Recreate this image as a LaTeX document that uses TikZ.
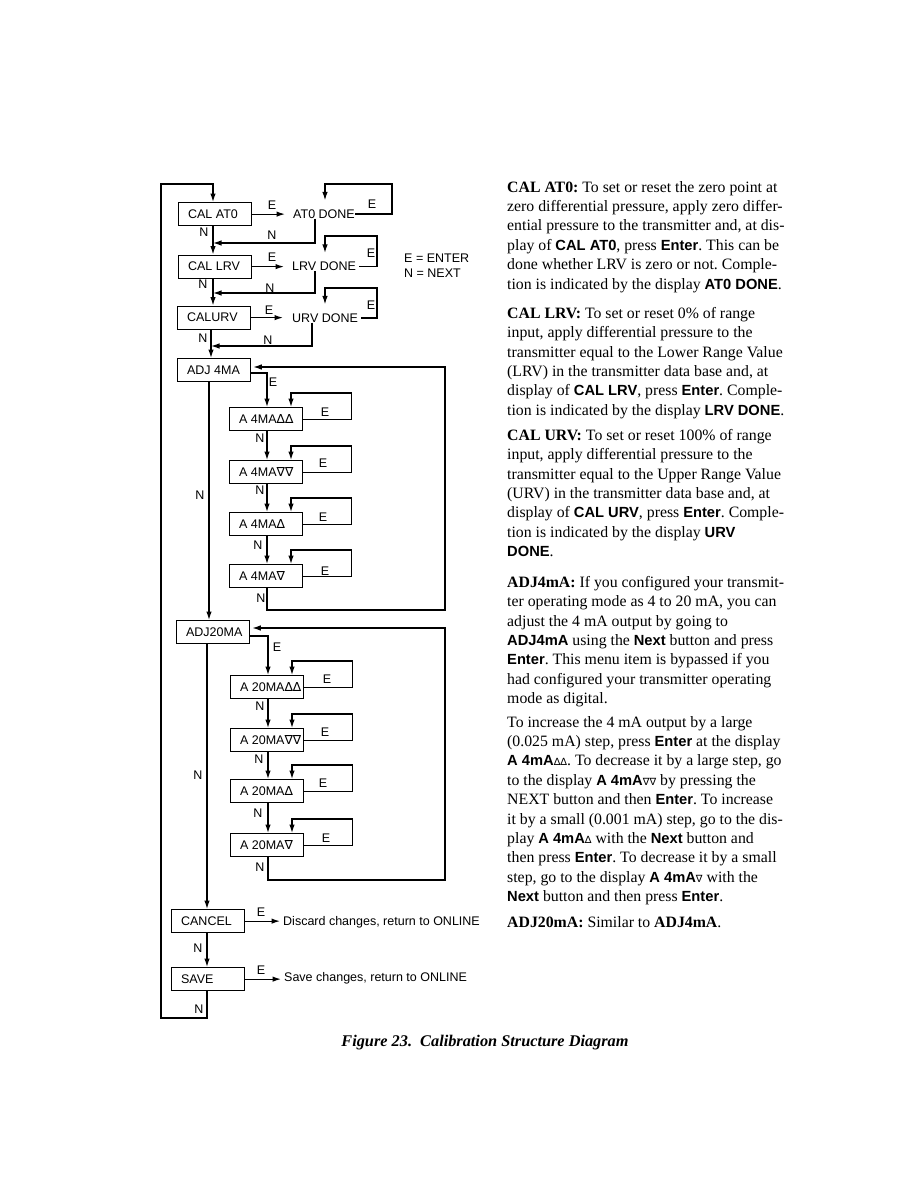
\documentclass[tikz,border=0pt]{standalone}
\usepackage{fontspec}
\setmainfont{Liberation Serif}
\setsansfont{Liberation Sans}
\newfontfamily\dfont{Liberation Sans}
\newfontfamily\symf{DejaVu Sans}
\usetikzlibrary{arrows.meta}
\frenchspacing
\newcommand{\tUp}{{\symf\char"2206}}
\newcommand{\tDn}{{\symf\char"2207}}
\newcommand{\sUp}{{\symf\fontsize{10}{19.4}\selectfont\char"2206}}
\newcommand{\sDn}{{\symf\fontsize{10}{19.4}\selectfont\char"2207}}
\newcommand{\bsf}[1]{{\sffamily\bfseries\fontsize{14.7}{19.4}\selectfont #1}}
\newcommand{\bx}[1]{\makebox[54pt][l]{#1}}
\newcommand{\selfloop}[1]{\draw[arr] (#1.east) -- ++(48,0) |- ([xshift=62pt,yshift=14pt]#1.north west) -- ([xshift=62pt]#1.north west);}
\begin{document}
\begin{tikzpicture}[x=1pt,y=-1pt,
  box/.style={draw, line width=1.25pt, inner xsep=9.5pt, inner ysep=0pt, minimum height=23pt, anchor=north west, font=\dfont\fontsize{12.5}{14}\selectfont},
  txt/.style={inner sep=0pt, anchor=west, font=\dfont\fontsize{12.5}{14}\selectfont},
  lbl/.style={inner sep=0pt, font=\dfont\fontsize{12.5}{14}\selectfont},
  arr/.style={line width=1.25pt, -{Latex[length=8.5pt,width=5.5pt]}},
  body/.style={anchor=north west, inner sep=0pt, align=left, font=\fontsize{15.8}{19.4}\selectfont\frenchspacing}]
\fill[white] (0,0) rectangle (918,1188);
\useasboundingbox (0,0) rectangle (918,1188);

% spine coordinates
\coordinate (sA) at (213,0);
\coordinate (sB) at (211,0);
\coordinate (sC) at (209,0);
\coordinate (sD) at (207,0);

% main boxes
\node[box] (cal0) at (178,202) {\bx{CAL AT0}};
\node[box] (lrv) at (178,254.5) {\bx{CAL LRV}};
\node[box] (urv) at (177,305.5) {\bx{CALURV}};
\node[box] (adj4) at (177,358) {\bx{ADJ 4MA}};
\node[box] (a1) at (229,407) {\bx{A 4MA\tUp\tUp}};
\node[box] (a2) at (229,460) {\bx{A 4MA\tDn\tDn}};
\node[box] (a3) at (229,512) {\bx{A 4MA\tUp}};
\node[box] (a4) at (229,564) {\bx{A 4MA\tDn}};
\node[box] (adj20) at (176,620) {\bx{ADJ20MA}};
\node[box] (b1) at (230,675) {\bx{A 20MA\tUp\tUp}};
\node[box] (b2) at (230,728) {\bx{A 20MA\tDn\tDn}};
\node[box] (b3) at (230,779) {\bx{A 20MA\tUp}};
\node[box] (b4) at (230,833) {\bx{A 20MA\tDn}};
\node[box] (cancel) at (171,909) {\bx{CANCEL}};
\node[box] (save) at (171,967) {\bx{SAVE}};

% done texts
\node[txt] (at0) at (293,214) {AT0 DONE};
\node[txt] (lrvd) at (292,266.5) {LRV DONE};
\node[txt] (urvd) at (292,318) {URV DONE};
\node[txt] (disc) at (283,922) {Discard changes, return to ONLINE};
\node[txt] (savt) at (284,978) {Save changes, return to ONLINE};
\node[lbl, anchor=west, align=left, font=\dfont\fontsize{12.5}{15}\selectfont] (legend) at (404,265.5) {E = ENTER\\N = NEXT};

% spine connectors
\draw[arr] (cal0.south -| sA) -- (lrv.north -| sA);
\draw[arr] (lrv.south -| sA) -- (urv.north -| sA);
\draw[arr] (urv.south -| sB) -- (adj4.north -| sB);
\draw[arr] (adj4.south -| sC) -- (adj20.north -| sC);
\draw[arr] (adj20.south -| sD) -- (cancel.north -| sD);
\draw[arr] (cancel.south -| sD) -- (save.north -| sD);
\coordinate (lb) at (161,1018);
\coordinate (lt) at (161,184);
\draw[arr] (save.south -| sD) -- (sD |- lb) -- (lb) -- (lt) -- (lt -| sA) -- (cal0.north -| sA);

% E arrows top
\draw[arr, shorten >=8pt] (cal0.east) -- (cal0.east -| at0.west);
\draw[arr, shorten >=8pt] (lrv.east) -- (lrv.east -| lrvd.west);
\draw[arr, shorten >=9pt] (urv.east) -- (urv.east -| urvd.west);

% self loops on DONE texts
\coordinate (k1) at (392,184); \coordinate (k1x) at (325,184);
\draw[arr] (at0.east) -| (k1) -- (k1x) -- ([yshift=9pt]at0.north -| k1x);
\coordinate (k2) at (377,236); \coordinate (k2x) at (325,236);
\draw[arr] ([xshift=3pt]lrvd.east) -| (k2) -- (k2x) -- ([yshift=9pt]lrvd.north -| k2x);
\coordinate (k3) at (377,288); \coordinate (k3x) at (325,288);
\draw[arr] ([xshift=3pt]urvd.east) -| (k3) -- (k3x) -- ([yshift=9pt]urvd.north -| k3x);

% N back lines
\coordinate (m1) at (315,243);
\draw[arr] (at0.south -| m1) -- (m1) -- (m1 -| sA);
\coordinate (m2) at (315,293);
\draw[arr] (lrvd.south -| m2) -- (m2) -- (m2 -| sA);
\coordinate (m3) at (312,346);
\draw[arr] (urvd.south -| m3) -- (m3) -- (m3 -| sB);

% ADJ 4MA section
\coordinate (e4) at (267,373);
\draw[arr] (adj4.east |- e4) -- (e4) -- (a1.north -| e4);
\draw[arr] (a1.south -| e4) -- (a2.north -| e4);
\draw[arr] (a2.south -| e4) -- (a3.north -| e4);
\draw[arr] (a3.south -| e4) -- (a4.north -| e4);
\coordinate (r4a) at (445,610);
\coordinate (r4b) at (445,367);
\draw[arr, shorten >=2pt] (a4.south -| e4) -- (e4 |- r4a) -- (r4a) -- (r4b) -- (adj4.east |- r4b);
\selfloop{a1}
\selfloop{a2}
\selfloop{a3}
\selfloop{a4}

% ADJ20MA section
\coordinate (e20) at (268,636);
\draw[arr] (adj20.east |- e20) -- (e20) -- (b1.north -| e20);
\draw[arr] (b1.south -| e20) -- (b2.north -| e20);
\draw[arr] (b2.south -| e20) -- (b3.north -| e20);
\draw[arr] (b3.south -| e20) -- (b4.north -| e20);
\coordinate (r20a) at (445,880);
\coordinate (r20b) at (445,628);
\draw[arr, shorten >=2pt] (b4.south -| e20) -- (e20 |- r20a) -- (r20a) -- (r20b) -- (adj20.east |- r20b);
\selfloop{b1}
\selfloop{b2}
\selfloop{b3}
\selfloop{b4}

% bottom E arrows
\draw[arr, shorten >=3pt] (cancel.east) -- (cancel.east -| disc.west);
\draw[arr, shorten >=3pt] (save.east) -- (save.east -| savt.west);

% labels
\node[lbl] (lE1) at (272,205) {E};
\node[lbl] (lE1b) at (372,204) {E};
\node[lbl] (lN1) at (204,232) {N};
\node[lbl] (lN1b) at (272,235) {N};
\node[lbl] (lE2) at (272,257) {E};
\node[lbl] (lE2b) at (371,253) {E};
\node[lbl] (lN2) at (203,284) {N};
\node[lbl] (lN2b) at (270,288) {N};
\node[lbl] (lE3) at (269,310) {E};
\node[lbl] (lE3b) at (371,305) {E};
\node[lbl] (lN3) at (203,338) {N};
\node[lbl] (lN3b) at (268,340) {N};
\node[lbl] (lE4) at (273,382) {E};
\node[lbl] (la1) at (325,412) {E};
\node[lbl] (lna1) at (260,438) {N};
\node[lbl] (la2) at (323,463) {E};
\node[lbl] (lna2) at (260,490) {N};
\node[lbl] (la3) at (323,517) {E};
\node[lbl] (lna3) at (258,545) {N};
\node[lbl] (la4) at (325,571) {E};
\node[lbl] (lna4) at (261,598) {N};
\node[lbl] (lN4) at (200,495) {N};
\node[lbl] (lE5) at (277,647) {E};
\node[lbl] (lb1) at (327,679) {E};
\node[lbl] (lnb1) at (260,706) {N};
\node[lbl] (lb2) at (325,732) {E};
\node[lbl] (lnb2) at (259,759) {N};
\node[lbl] (lb3) at (323,783) {E};
\node[lbl] (lnb3) at (258,813) {N};
\node[lbl] (lb4) at (326,838) {E};
\node[lbl] (lnb4) at (260,867) {N};
\node[lbl] (lN5) at (198,775) {N};
\node[lbl] (lEc) at (261,912) {E};
\node[lbl] (lNc) at (198,948) {N};
\node[lbl] (lEs) at (261,970) {E};
\node[lbl] (lNs) at (199,1009) {N};

% caption
\node[inner sep=0pt, font=\bfseries\itshape\fontsize{16.3}{18}\selectfont] (cap) at (485,1043) {Figure 23.\ \ Calibration Structure Diagram};

% body text
\node[body] (p1) at (507,181) {\textbf{CAL AT0:} To set or reset the zero point at\\
zero differential pressure, apply zero differ-\\
ential pressure to the transmitter and, at dis-\\
play of \bsf{CAL AT0}, press \bsf{Enter}. This can be\\
done whether LRV is zero or not. Comple-\\
tion is indicated by the display \bsf{AT0 DONE}.};
\node[body] (p2) at (507,307) {\textbf{CAL LRV:} To set or reset 0\% of range\\
input, apply differential pressure to the\\
transmitter equal to the Lower Range Value\\
(LRV) in the transmitter data base and, at\\
display of \bsf{CAL LRV}, press \bsf{Enter}. Comple-\\
tion is indicated by the display \bsf{LRV DONE}.};
\node[body] (p3) at (507,429) {\textbf{CAL URV:} To set or reset 100\% of range\\
input, apply differential pressure to the\\
transmitter equal to the Upper Range Value\\
(URV) in the transmitter data base and, at\\
display of \bsf{CAL URV}, press \bsf{Enter}. Comple-\\
tion is indicated by the display \bsf{URV}\\
\bsf{DONE}.};
\node[body] (p4) at (507,576) {\textbf{ADJ4mA:} If you configured your transmit-\\
ter operating mode as 4 to 20 mA, you can\\
adjust the 4 mA output by going to\\
\bsf{ADJ4mA} using the \bsf{Next} button and press\\
\bsf{Enter}. This menu item is bypassed if you\\
had configured your transmitter operating\\
mode as digital.};
\node[body] (p5) at (507,716) {To increase the 4 mA output by a large\\
(0.025 mA) step, press \bsf{Enter} at the display\\
\bsf{A 4mA}\sUp\sUp. To decrease it by a large step, go\\
to the display \bsf{A 4mA}\sDn\sDn{} by pressing the\\
NEXT button and then \bsf{Enter}. To increase\\
it by a small (0.001 mA) step, go to the dis-\\
play \bsf{A 4mA}\sUp{} with the \bsf{Next} button and\\
then press \bsf{Enter}. To decrease it by a small\\
step, go to the display \bsf{A 4mA}\sDn{} with the\\
\bsf{Next} button and then press \bsf{Enter}.};
\node[body] (p6) at (507,916) {\textbf{ADJ20mA:} Similar to \textbf{ADJ4mA}.};
\end{tikzpicture}
\end{document}
